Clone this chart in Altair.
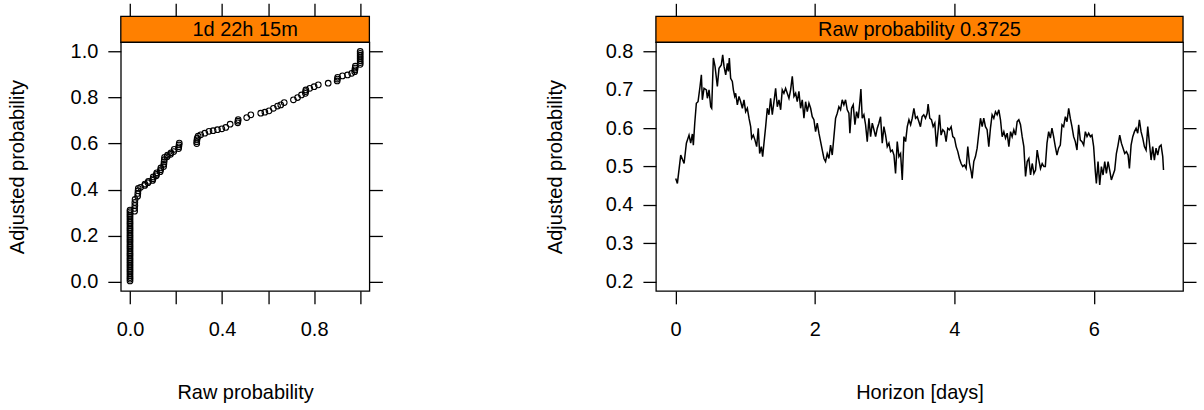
import altair as alt
import pandas as pd

# ---------------- data ----------------
strip_titles = ["1d 22h 15m", "Raw probability 0.3725"]

raw_prob = [
    0.0, 0.0, 0.0, 0.0, 0.0, 0.0, 0.0, 0.0, 0.0, 0.0,
    0.0, 0.0, 0.0, 0.0, 0.0, 0.0, 0.0, 0.0, 0.0, 0.0,
    0.0, 0.0, 0.0, 0.0, 0.0, 0.0, 0.0, 0.0, 0.0, 0.0,
    0.0, 0.0, 0.0, 0.0, 0.0, 0.0, 0.0, 0.0, 0.0, 0.0,
    0.0,
    0.020, 0.020, 0.021, 0.021, 0.022,
    0.033, 0.034, 0.035, 0.036,
    0.046, 0.064, 0.065, 0.078, 0.080, 0.098, 0.100, 0.101, 0.114, 0.115,
    0.116, 0.131, 0.133, 0.134, 0.146, 0.147, 0.148, 0.149, 0.150, 0.161,
    0.163, 0.176, 0.178, 0.190, 0.192, 0.211, 0.212, 0.213, 0.214,
    0.290, 0.290, 0.291, 0.292, 0.296,
    0.307, 0.325, 0.343, 0.361, 0.380, 0.399, 0.416, 0.435, 0.468, 0.469,
    0.470, 0.507, 0.525, 0.568, 0.586, 0.604, 0.623, 0.641, 0.655, 0.670,
    0.710, 0.728, 0.745, 0.762, 0.763, 0.764, 0.781, 0.800, 0.818, 0.861,
    0.900, 0.901, 0.902, 0.923, 0.945, 0.963, 0.976, 0.977, 0.978, 0.979,
    1.0, 1.0, 1.0, 1.0, 1.0, 1.0, 1.0, 1.0,
]
adj_prob = [
    0.003, 0.011, 0.018, 0.026, 0.034, 0.042, 0.049, 0.057, 0.065, 0.072,
    0.080, 0.088, 0.096, 0.103, 0.111, 0.119, 0.126, 0.134, 0.142, 0.150,
    0.157, 0.165, 0.173, 0.180, 0.188, 0.196, 0.203, 0.211, 0.219, 0.227,
    0.234, 0.242, 0.250, 0.257, 0.265, 0.273, 0.281, 0.288, 0.296, 0.304,
    0.311,
    0.306, 0.318, 0.331, 0.344, 0.357,
    0.371, 0.383, 0.395, 0.405,
    0.410, 0.418, 0.424, 0.430, 0.436, 0.440, 0.447, 0.455, 0.460, 0.466,
    0.473, 0.478, 0.486, 0.494, 0.500, 0.510, 0.520, 0.530, 0.540, 0.543,
    0.550, 0.553, 0.560, 0.565, 0.575, 0.578, 0.586, 0.594, 0.602,
    0.600, 0.608, 0.616, 0.624, 0.632,
    0.638, 0.645, 0.653, 0.656, 0.660, 0.664, 0.670, 0.684, 0.690, 0.697,
    0.704, 0.713, 0.725, 0.732, 0.736, 0.742, 0.753, 0.763, 0.768, 0.778,
    0.790, 0.800, 0.811, 0.818, 0.826, 0.833, 0.840, 0.847, 0.855, 0.862,
    0.872, 0.880, 0.888, 0.894, 0.898, 0.905, 0.912, 0.920, 0.928, 0.936,
    0.944, 0.952, 0.960, 0.968, 0.976, 0.984, 0.992, 1.000,
]

horizon_days = [
    0.004, 0.028, 0.076, 0.124, 0.157, 0.195, 0.219, 0.243, 0.257, 0.277,
    0.300, 0.324, 0.353, 0.372, 0.386, 0.410, 0.444, 0.458, 0.482, 0.506,
    0.520, 0.544, 0.568, 0.601, 0.625, 0.658, 0.678, 0.697, 0.721, 0.745,
    0.759, 0.773, 0.792, 0.816, 0.831, 0.850, 0.864, 0.888, 0.912, 0.936,
    0.960, 0.983, 1.007, 1.031, 1.055, 1.079, 1.093, 1.117, 1.141, 1.165,
    1.188, 1.208, 1.232, 1.251, 1.270, 1.294, 1.318, 1.341, 1.365, 1.389,
    1.413, 1.437, 1.461, 1.485, 1.509, 1.532, 1.556, 1.580, 1.604, 1.628,
    1.652, 1.676, 1.700,
    1.724, 1.747, 1.771, 1.795, 1.819, 1.843, 1.867, 1.891, 1.915, 1.939,
    1.962, 1.986, 2.010, 2.034, 2.058, 2.082, 2.106, 2.130, 2.153, 2.177,
    2.201, 2.225, 2.249, 2.273, 2.297, 2.321, 2.344, 2.368, 2.392, 2.416,
    2.440, 2.464, 2.488, 2.502, 2.526, 2.550, 2.574, 2.598, 2.622, 2.645,
    2.660, 2.679, 2.703, 2.727, 2.751, 2.775, 2.799, 2.823, 2.847, 2.871,
    2.895, 2.918, 2.942, 2.966, 2.990, 3.014, 3.038, 3.062, 3.086, 3.110,
    3.134, 3.157, 3.181, 3.205, 3.229, 3.253, 3.277, 3.301, 3.325, 3.349,
    3.373, 3.396, 3.420, 3.444, 3.468, 3.492,
    3.514, 3.538, 3.562, 3.586, 3.610, 3.624, 3.648, 3.672, 3.696, 3.720,
    3.744, 3.768, 3.787, 3.810, 3.834, 3.858, 3.882, 3.906, 3.930, 3.954,
    3.978, 4.002, 4.026, 4.050, 4.073, 4.097, 4.121, 4.145, 4.169, 4.193,
    4.217, 4.241, 4.255, 4.279, 4.303, 4.327, 4.351, 4.375, 4.399, 4.422,
    4.446, 4.470, 4.494, 4.518, 4.542, 4.566, 4.590, 4.614, 4.638, 4.662,
    4.686, 4.710, 4.734, 4.758, 4.782, 4.806, 4.829, 4.853, 4.877, 4.901,
    4.925, 4.949, 4.973, 4.997, 5.021, 5.045, 5.069, 5.093, 5.117, 5.141,
    5.165, 5.188, 5.212, 5.236, 5.260, 5.284,
    5.305, 5.329, 5.353, 5.377, 5.400, 5.424, 5.448, 5.472, 5.496, 5.520,
    5.544, 5.568, 5.592, 5.616, 5.640, 5.663, 5.687, 5.711, 5.735, 5.759,
    5.783, 5.807, 5.831, 5.855, 5.879, 5.903, 5.927, 5.951, 5.974, 5.998,
    6.022, 6.037, 6.061, 6.085, 6.109, 6.133, 6.157, 6.181, 6.205, 6.228,
    6.252, 6.276, 6.300, 6.324, 6.348, 6.372, 6.396, 6.420, 6.444, 6.468,
    6.492, 6.511, 6.535, 6.559, 6.583, 6.607, 6.630, 6.654, 6.678, 6.702,
    6.726, 6.750, 6.774, 6.798, 6.822, 6.845, 6.869, 6.893, 6.917, 6.941,
    6.965, 6.989, 7.000,
]
adjusted_line = [
    0.469, 0.456, 0.530, 0.508, 0.561, 0.582, 0.561, 0.585, 0.556, 0.613,
    0.665, 0.669, 0.709, 0.739, 0.674, 0.704, 0.700, 0.678, 0.700, 0.656,
    0.652, 0.783, 0.761, 0.709, 0.756, 0.765, 0.791, 0.761, 0.739, 0.769,
    0.748, 0.783, 0.730, 0.722, 0.700, 0.683, 0.691, 0.661, 0.683, 0.669,
    0.652, 0.674, 0.643, 0.652, 0.626, 0.604, 0.574, 0.582, 0.569, 0.552,
    0.600, 0.534, 0.552, 0.526, 0.561, 0.604, 0.652, 0.635, 0.678, 0.635,
    0.669, 0.704, 0.656, 0.674, 0.648, 0.700, 0.691, 0.704, 0.691, 0.678,
    0.700, 0.735, 0.683,
    0.691, 0.669, 0.696, 0.652, 0.674, 0.626, 0.669, 0.643, 0.665, 0.652,
    0.630, 0.622, 0.591, 0.613, 0.587, 0.565, 0.543, 0.521, 0.513, 0.534,
    0.521, 0.556, 0.530, 0.578, 0.626, 0.639, 0.656, 0.648, 0.674, 0.661,
    0.674, 0.648, 0.639, 0.587, 0.652, 0.661, 0.609, 0.643, 0.626, 0.669,
    0.702, 0.626, 0.635, 0.609, 0.565, 0.626, 0.578, 0.613, 0.596, 0.578,
    0.600, 0.613, 0.630, 0.561, 0.604, 0.582, 0.552, 0.561, 0.539, 0.543,
    0.530, 0.482, 0.565, 0.526, 0.534, 0.465, 0.578, 0.565, 0.604, 0.622,
    0.609, 0.626, 0.652, 0.626, 0.630, 0.617,
    0.604, 0.630, 0.635, 0.626, 0.639, 0.663, 0.626, 0.622, 0.604, 0.613,
    0.552, 0.596, 0.635, 0.582, 0.596, 0.591, 0.565, 0.600, 0.596, 0.604,
    0.578, 0.574, 0.552, 0.539, 0.521, 0.508, 0.500, 0.504, 0.495, 0.552,
    0.508, 0.487, 0.469, 0.513, 0.526, 0.548, 0.587, 0.626, 0.604, 0.626,
    0.604, 0.596, 0.552, 0.600, 0.635, 0.626, 0.643, 0.635, 0.648, 0.622,
    0.578, 0.591, 0.574, 0.587, 0.552, 0.591, 0.578, 0.596, 0.582, 0.617,
    0.622, 0.609, 0.578, 0.552, 0.474, 0.513, 0.521, 0.478, 0.508, 0.482,
    0.491, 0.543, 0.517, 0.495, 0.508, 0.500,
    0.500, 0.561, 0.591, 0.574, 0.600, 0.578, 0.552, 0.530, 0.548, 0.556,
    0.609, 0.604, 0.630, 0.617, 0.652, 0.626, 0.604, 0.578, 0.565, 0.543,
    0.609, 0.569, 0.565, 0.556, 0.591, 0.578, 0.587, 0.578, 0.582, 0.552,
    0.487, 0.456, 0.513, 0.452, 0.500, 0.478, 0.513, 0.482, 0.513, 0.491,
    0.465, 0.478, 0.491, 0.534, 0.556, 0.582, 0.561, 0.548, 0.534, 0.539,
    0.530, 0.495, 0.556, 0.578, 0.591, 0.600, 0.587, 0.622, 0.591, 0.574,
    0.552, 0.543, 0.604, 0.561, 0.517, 0.552, 0.517, 0.548, 0.530, 0.552,
    0.556, 0.526, 0.491,
]

left_x_ticks = [0.0, 0.2, 0.4, 0.6, 0.8, 1.0]
left_y_ticks = [0.0, 0.2, 0.4, 0.6, 0.8, 1.0]
right_x_ticks = [0, 2, 4, 6]
right_y_ticks = [0.2, 0.3, 0.4, 0.5, 0.6, 0.7, 0.8]

# ---------------- layout constants ----------------
FONT = "Liberation Sans"
FS = 20
W1, W2, H = 249, 528, 249
STRIP = 26
TOP_MARGIN = 41
BOTTOM_MARGIN = 120
LEFT_MARGIN = 120
GAP = 287
RIGHT_MARGIN = 1204 - LEFT_MARGIN - W1 - GAP - W2
ORANGE = "#ff8000"


def panel(data_layer, ghost_layer, label, width, left_extra, right_extra):
    sdf = pd.DataFrame({"label": [label]})
    frame = alt.Chart(sdf).mark_rect(fill="white", opacity=0).encode(
        x=alt.value(-left_extra), x2=alt.value(width + right_extra),
        y=alt.value(-TOP_MARGIN), y2=alt.value(H + BOTTOM_MARGIN),
    )
    strip = alt.Chart(sdf).mark_rect(fill=ORANGE, stroke="black", strokeWidth=1.3).encode(
        x=alt.value(0), x2=alt.value(width), y=alt.value(-STRIP), y2=alt.value(0)
    )
    txt = alt.Chart(sdf).mark_text(font=FONT, fontSize=FS, color="black",
                                    baseline="middle", align="center").encode(
        x=alt.value(width / 2), y=alt.value(-STRIP / 2 + 1), text="label:N"
    )
    return alt.layer(frame, ghost_layer, data_layer, strip, txt).resolve_axis(
        x="independent", y="independent"
    ).properties(width=width, height=H)


# left panel
sc = pd.DataFrame({"raw": raw_prob, "adj": adj_prob})
xs1 = alt.Scale(domain=[-0.04, 1.04], nice=False, zero=False)
ys1 = alt.Scale(domain=[-0.04, 1.04], nice=False, zero=False)
pts = alt.Chart(sc).mark_point(shape="circle", filled=False, color="black",
                               size=32, strokeWidth=1.1, opacity=1).encode(
    x=alt.X("raw:Q", scale=xs1, axis=alt.Axis(
        orient="bottom", values=left_x_ticks, title="Raw probability",
        labelExpr="round(datum.value*10) % 4 == 0 ? format(datum.value, '.1f') : ''",
        titleY=102, titleBaseline="middle")),
    y=alt.Y("adj:Q", scale=ys1, axis=alt.Axis(
        orient="left", values=left_y_ticks, format=".1f",
        title="Adjusted probability", titleX=-103, titleBaseline="middle")),
)
pts_ghost = alt.Chart(sc).mark_point(opacity=0).encode(
    x=alt.X("raw:Q", scale=xs1, axis=alt.Axis(orient="top", values=left_x_ticks,
                                              labels=False, title=None, offset=STRIP)),
    y=alt.Y("adj:Q", scale=ys1, axis=alt.Axis(orient="right", values=left_y_ticks,
                                              labels=False, title=None)),
)
left = panel(pts, pts_ghost, strip_titles[0], W1, LEFT_MARGIN, 0)

# right panel
ln = pd.DataFrame({"h": horizon_days, "a": adjusted_line})
xs2 = alt.Scale(domain=[-0.28, 7.28], nice=False, zero=False)
ys2 = alt.Scale(domain=[0.176, 0.824], nice=False, zero=False)
line = alt.Chart(ln).mark_line(color="black", strokeWidth=1.5).encode(
    x=alt.X("h:Q", scale=xs2, axis=alt.Axis(
        orient="bottom", values=right_x_ticks, format="d", title="Horizon [days]",
        titleY=102, titleBaseline="middle")),
    y=alt.Y("a:Q", scale=ys2, axis=alt.Axis(
        orient="left", values=right_y_ticks, format=".1f",
        title="Adjusted probability", titleX=-101, titleBaseline="middle")),
)
line_ghost = alt.Chart(ln).mark_point(opacity=0).encode(
    x=alt.X("h:Q", scale=xs2, axis=alt.Axis(orient="top", values=right_x_ticks,
                                            labels=False, title=None, offset=STRIP)),
    y=alt.Y("a:Q", scale=ys2, axis=alt.Axis(orient="right", values=right_y_ticks,
                                            labels=False, title=None)),
)
right = panel(line, line_ghost, strip_titles[1], W2, 0, RIGHT_MARGIN)

chart = alt.hconcat(left, right, spacing=GAP, bounds="flush").properties(
    padding=0
).configure_view(
    stroke="black", strokeWidth=1.3
).configure_axis(
    labelFont=FONT, labelFontSize=FS, labelColor="black",
    titleFont=FONT, titleFontSize=FS, titleColor="black", titleFontWeight="normal",
    tickColor="black", tickWidth=1.3, tickSize=13, domain=False, grid=False,
    labelPadding=10, labelFlush=False, labelOverlap=False,
).configure_axisBottom(
    labelPadding=16
)

chart.save("out.html", embed_options={"renderer": "svg", "actions": False})
